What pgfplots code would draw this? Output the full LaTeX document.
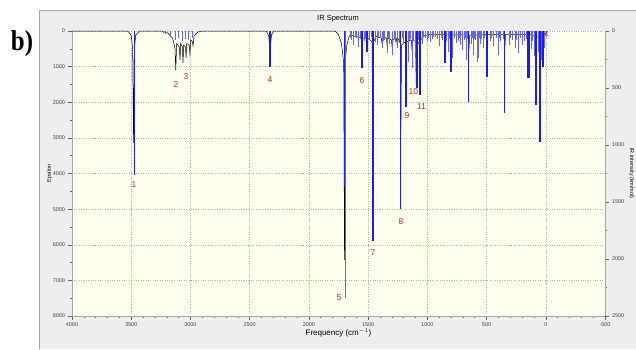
\documentclass[border=0pt]{standalone}
\usepackage{fontspec}
\setmainfont{Liberation Sans}
\newfontfamily\serifb{Liberation Serif}
\usepackage{pgfplots}
\pgfplotsset{compat=1.18}
\definecolor{panel}{RGB}{238,238,238}
\definecolor{ivory}{RGB}{255,255,238}
\definecolor{stickblue}{RGB}{25,25,250}
\definecolor{lightblue}{RGB}{100,100,250}
\definecolor{lblred}{RGB}{205,35,35}
\begin{document}
\begin{tikzpicture}[x=1bp,y=1bp]
\path[use as bounding box] (0,0) rectangle (636,349);
\fill[panel] (39,0) rectangle (636,339);
\draw[gray!70,line width=0.8bp] (39,0) -- (39,339) -- (636,339);
\node[font=\serifb\bfseries\fontsize{25}{25}\selectfont,yscale=1.15] at (22,305) {b)};
\node[font=\fontsize{7.5}{8}\selectfont] at (338,330) {IR Spectrum};
\pgfplotsset{every axis/.append style={
  at={(72bp,33bp)}, anchor=south west, scale only axis,
  width=533bp, height=285bp,
  xmin=-500, xmax=4000, x dir=reverse, y dir=reverse,
  tick align=outside, major tick length=3.5bp, minor tick length=2bp,
  tick style={gray!80!black, line width=0.5bp},
  tick label style={font=\fontsize{5.5}{6}\selectfont, text=black!75},
  /pgf/number format/assume math mode=true,
  /pgf/number format/set thousands separator={},
  axis line style={gray!70, line width=0.6bp},
}}
\begin{axis}[
  ymin=0, ymax=8000,
  axis background/.style={fill=ivory},
  xtick={-500,0,...,4000}, minor x tick num=4,
  ytick={0,1000,...,8000}, minor y tick num=1,
  grid=major, major grid style={dotted, gray!60, line width=0.5bp},
  axis x line*=bottom, axis y line*=left,
  xlabel={Frequency (cm$^{-1}$)},
  xlabel style={font=\fontsize{8}{9}\selectfont, yshift=5bp},
  ylabel={Epsilon},
  ylabel style={font=\fontsize{5.5}{6}\selectfont, yshift=-6bp},
  clip=false,
]
\addplot[black, line width=0.5bp] coordinates {
(4000,0)(3530,0)(3500,120)(3488,500)(3480,3140)(3474,500)(3462,120)(3430,0)
(3240,0)(3190,60)(3150,200)(3130,500)(3124,1100)(3116,350)(3094,450)(3088,820)
(3082,350)(3068,450)(3063,900)(3057,400)(3042,450)(3037,760)(3031,350)(3010,400)
(3004,680)(2998,250)(2984,300)(2978,420)(2970,150)(2940,30)(2900,0)
(2360,0)(2340,120)(2332,400)(2328,1000)(2324,400)(2315,100)(2295,0)
(1780,0)(1750,100)(1725,350)(1706,900)(1699,6430)(1694,900)(1680,400)(1660,150)
(1645,100)(1625,150)(1585,150)(1556,200)(1551,600)(1546,200)(1514,200)(1509,450)
(1504,200)(1466,300)(1460,5700)(1454,300)(1430,150)(1388,200)(1383,350)(1378,150)
(1345,200)(1340,400)(1335,200)(1303,250)(1298,450)(1293,250)(1262,200)(1256,350)
(1250,200)(1228,350)(1223,2780)(1218,400)(1186,300)(1180,800)(1175,300)(1135,250)
(1129,550)(1124,250)(1100,300)(1094,1500)(1088,400)(1067,300)(1062,900)(1057,250)
(1020,120)(980,100)(855,100)(851,300)(846,100)(805,120)(800,350)(795,120)
(720,100)(653,120)(648,500)(643,120)(500,100)(496,300)(492,100)(348,100)(344,400)
(340,100)(160,100)(150,250)(142,250)(136,100)(88,150)(83,400)(78,150)(54,200)
(49,700)(44,200)(26,200)(22,300)(16,200)(5,100)(-10,0)
};
\begin{scope}[every node/.style={font=\fontsize{8.5}{9}\selectfont, text=lblred}]
\node at (axis cs:3477,4323) {1};
\node at (axis cs:3122,1516) {2};
\node at (axis cs:3037,1291) {3};
\node at (axis cs:2328,1375) {4};
\node at (axis cs:1746,7495) {5};
\node at (axis cs:1551,1403) {6};
\node at (axis cs:1459,6232) {7};
\node at (axis cs:1222,5361) {8};
\node at (axis cs:1171,2386) {9};
\node at (axis cs:1118,1712) {10};
\node at (axis cs:1050,2133) {11};
\node[font=\bfseries\fontsize{6}{6}\selectfont] at (axis cs:-8,90) {1};
\end{scope}
\end{axis}
\begin{axis}[
  ymin=0, ymax=2500,
  axis x line=none, axis y line*=right,
  ytick={0,500,...,2500}, minor y tick num=1,
  ylabel={IR Intensity (km/mol)},
  ylabel style={font=\fontsize{5.5}{6}\selectfont, rotate=180, yshift=-2bp},
]
\addplot[ycomb, lightblue, line width=0.8bp, mark=none] coordinates {
(3232,20)(3215,30)(3173,50)(3130,80)(3105,60)(3071,90)(3046,70)(3020,80)(2987,60)
(1650,60)(1640,80)(1620,120)(1610,50)(1600,60)(1580,140)(1565,70)(1530,90)(1520,60)
(1490,70)(1470,50)(1440,100)(1425,120)(1410,60)(1400,60)(1383,150)(1370,90)(1360,80)
(1340,190)(1330,60)(1320,110)(1298,210)(1280,70)(1270,100)(1256,150)(1240,90)
(1210,60)(1200,110)(1163,270)(1150,80)(1140,70)(1129,325)(1115,90)(1104,185)
(1075,80)(1040,110)(1030,50)(1020,60)(1000,90)(990,60)(977,95)(960,70)(945,50)
(935,50)(915,70)(900,130)(885,60)(876,80)(860,60)(840,90)(825,185)(810,70)(792,240)
(775,60)(758,105)(740,90)(730,60)(720,120)(707,165)(690,80)(680,60)(673,255)
(660,70)(630,110)(620,60)(614,210)(600,70)(590,80)(581,270)(572,240)(560,60)
(550,110)(540,70)(530,150)(515,60)(470,90)(455,60)(440,130)(420,60)(403,210)(390,60)
(380,90)(360,70)(310,120)(295,60)(280,80)(260,150)(245,80)(234,195)(215,60)(200,120)
(180,90)(165,70)(120,160)(110,90)(100,220)(90,120)(60,180)(45,120)(35,250)(30,200)(16,300)(8,150)
};
\addplot[ycomb, stickblue, line width=1.15bp, mark=none] coordinates {
(3473,1263)(2328,320)(1698,1370)(1551,325)(1509,185)(1459,1840)(1226,1560)
(1180,667)(1087,500)(1062,560)(851,280)(800,360)(651,622)(496,400)(347,720)
(150,410)(142,415)(83,650)(75,560)(49,973)(24,315)
};
\addplot[ycomb, lightblue, line width=0.9bp, mark=none] coordinates {(1692,2340)};
\end{axis}
\end{tikzpicture}
\end{document}
